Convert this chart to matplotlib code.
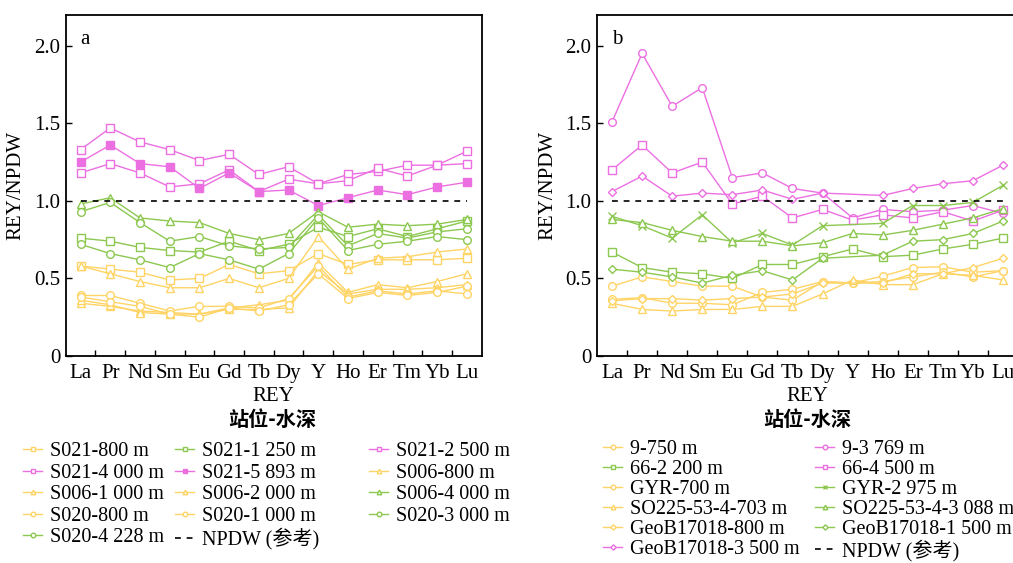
import numpy as np
import matplotlib
matplotlib.use('Agg')
import matplotlib.pyplot as plt

plt.rcParams['font.family'] = ['Liberation Serif', 'Noto Sans CJK SC']

# Datos
rey = ['La', 'Pr', 'Nd', 'Sm', 'Eu', 'Gd', 'Tb', 'Dy', 'Y', 'Ho', 'Er', 'Tm', 'Yb', 'Lu']
npdw = [1.0] * len(rey)

# panel a
s021_800 = [0.58, 0.56, 0.54, 0.49, 0.50, 0.59, 0.53, 0.55, 0.66, 0.59, 0.62, 0.62, 0.62, 0.63]
s021_1250 = [0.76, 0.74, 0.70, 0.68, 0.67, 0.74, 0.68, 0.72, 0.83, 0.77, 0.82, 0.77, 0.82, 0.87]
s021_2500 = [1.33, 1.47, 1.38, 1.33, 1.26, 1.30, 1.17, 1.22, 1.11, 1.17, 1.19, 1.23, 1.23, 1.32]
s021_4000 = [1.18, 1.24, 1.18, 1.09, 1.11, 1.20, 1.06, 1.14, 1.11, 1.13, 1.21, 1.16, 1.23, 1.24]
s021_5893 = [1.25, 1.36, 1.24, 1.22, 1.08, 1.18, 1.06, 1.07, 0.97, 1.02, 1.07, 1.04, 1.09, 1.12]
s006_800 = [0.58, 0.53, 0.48, 0.44, 0.44, 0.50, 0.44, 0.50, 0.77, 0.56, 0.63, 0.64, 0.67, 0.69]
s006_1000 = [0.34, 0.32, 0.29, 0.28, 0.27, 0.31, 0.33, 0.36, 0.60, 0.41, 0.46, 0.44, 0.48, 0.53]
s006_2000 = [0.36, 0.33, 0.28, 0.27, 0.27, 0.30, 0.30, 0.31, 0.55, 0.40, 0.43, 0.43, 0.44, 0.46]
s006_4000 = [0.98, 1.02, 0.89, 0.87, 0.86, 0.79, 0.75, 0.79, 0.93, 0.83, 0.85, 0.84, 0.85, 0.88]
s020_800 = [0.39, 0.39, 0.34, 0.29, 0.32, 0.32, 0.31, 0.37, 0.58, 0.38, 0.42, 0.40, 0.42, 0.40]
s020_1000 = [0.38, 0.35, 0.32, 0.27, 0.25, 0.31, 0.29, 0.33, 0.53, 0.37, 0.41, 0.39, 0.41, 0.45]
s020_3000 = [0.93, 0.99, 0.86, 0.74, 0.77, 0.71, 0.69, 0.70, 0.91, 0.71, 0.79, 0.76, 0.80, 0.82]
s020_4228 = [0.72, 0.66, 0.62, 0.57, 0.66, 0.62, 0.56, 0.66, 0.89, 0.68, 0.72, 0.74, 0.77, 0.75]

# panel b
b9_750 = [0.45, 0.51, 0.48, 0.45, 0.45, 0.38, 0.36, 0.48, 0.47, 0.515, 0.57, 0.575, 0.54, 0.55]
b9_3769 = [1.51, 1.95, 1.61, 1.73, 1.15, 1.18, 1.08, 1.05, 0.89, 0.945, 0.93, 0.94, 0.97, 0.92]
b66_2200 = [0.67, 0.57, 0.54, 0.53, 0.50, 0.59, 0.59, 0.64, 0.69, 0.64, 0.65, 0.69, 0.72, 0.76]
b66_4500 = [1.20, 1.36, 1.18, 1.25, 0.98, 1.03, 0.89, 0.945, 0.876, 0.91, 0.89, 0.93, 0.87, 0.94]
gyr_700 = [0.365, 0.376, 0.34, 0.34, 0.33, 0.41, 0.43, 0.48, 0.47, 0.48, 0.51, 0.54, 0.51, 0.55]
gyr_2975 = [0.90, 0.84, 0.76, 0.91, 0.73, 0.79, 0.715, 0.84, np.nan, 0.855, 0.97, 0.97, 0.99, 1.10]
so225_703 = [0.34, 0.30, 0.29, 0.30, 0.30, 0.32, 0.32, 0.40, 0.49, 0.46, 0.46, 0.53, 0.52, 0.49]
so225_3088 = [0.88, 0.86, 0.81, 0.77, 0.74, 0.74, 0.71, 0.73, 0.79, 0.78, 0.81, 0.85, 0.89, 0.95]
geob_800 = [0.356, 0.37, 0.37, 0.36, 0.37, 0.38, 0.40, 0.47, np.nan, 0.47, 0.53, 0.53, 0.57, 0.63]
geob_1500 = [0.56, 0.54, 0.51, 0.47, 0.52, 0.55, 0.49, 0.63, np.nan, 0.65, 0.74, 0.75, 0.79, 0.87]
geob_3500 = [1.06, 1.16, 1.03, 1.05, 1.04, 1.07, 1.01, 1.05, np.nan, 1.035, 1.08, 1.11, 1.13, 1.23]

# colores
pink = '#EC6FE2'
green = '#8CC850'
yellow = '#FFD466'

x = np.arange(len(rey))

series_a = [
    ('S021-800 m', s021_800, yellow, 's', False),
    ('S021-1 250 m', s021_1250, green, 's', False),
    ('S021-2 500 m', s021_2500, pink, 's', False),
    ('S021-4 000 m', s021_4000, pink, 's', False),
    ('S021-5 893 m', s021_5893, pink, 's', True),
    ('S006-800 m', s006_800, yellow, '^', False),
    ('S006-1 000 m', s006_1000, yellow, '^', False),
    ('S006-2 000 m', s006_2000, yellow, '^', False),
    ('S006-4 000 m', s006_4000, green, '^', False),
    ('S020-800 m', s020_800, yellow, 'o', False),
    ('S020-1 000 m', s020_1000, yellow, 'o', False),
    ('S020-3 000 m', s020_3000, green, 'o', False),
    ('S020-4 228 m', s020_4228, green, 'o', False),
]

series_b = [
    ('9-750 m', b9_750, yellow, 'o', False),
    ('9-3 769 m', b9_3769, pink, 'o', False),
    ('66-2 200 m', b66_2200, green, 's', False),
    ('66-4 500 m', b66_4500, pink, 's', False),
    ('GYR-700 m', gyr_700, yellow, 'o', False),
    ('GYR-2 975 m', gyr_2975, green, 'x', False),
    ('SO225-53-4-703 m', so225_703, yellow, '^', False),
    ('SO225-53-4-3 088 m', so225_3088, green, '^', False),
    ('GeoB17018-800 m', geob_800, yellow, 'D', False),
    ('GeoB17018-1 500 m', geob_1500, green, 'D', False),
    ('GeoB17018-3 500 m', geob_3500, pink, 'D', False),
]

W, H = 1013, 563
fig = plt.figure(figsize=(W / 100, H / 100), dpi=100)
ax_a = fig.add_axes([65.7 / W, 1 - 356 / H, 416 / W, 341.3 / H])
ax_b = fig.add_axes([597 / W, 1 - 356 / H, 421 / W, 341.3 / H])


def draw(ax, series):
    handles = []
    for lab, vals, col, mk, filled in series:
        v = np.array(vals, dtype=float)
        ok = ~np.isnan(v)
        ms = 4.5 if mk == 'D' else 5.5
        if mk == 'x':
            ms = 6
        ln, = ax.plot(x[ok], v[ok], color=col, marker=mk, ms=ms, lw=1.0, mew=1.0,
                      mec=col, mfc=col if filled else 'white', label=lab)
        handles.append(ln)
    ref, = ax.plot(x, npdw, color='black', ls=(0, (3.5, 3.5)), lw=1.2, label='NPDW (参考)')
    handles.append(ref)
    return handles


def style(ax, letter):
    ax.set_xlim(-0.5, 13.5)
    ax.set_ylim(0, 2.2)
    ax.set_xticks(np.arange(0.5, 13, 1))
    ax.set_xticklabels([])
    ax.set_xticks(x, minor=True)
    ax.set_xticklabels(rey, minor=True, fontsize=15)
    ax.tick_params(axis='x', which='major', direction='in', length=4, width=1)
    ax.tick_params(axis='x', which='minor', length=0, pad=6)
    ax.set_yticks([0, 0.5, 1.0, 1.5, 2.0])
    ax.set_yticklabels(['0', '0.5', '1.0', '1.5', '2.0'], fontsize=15)
    ax.tick_params(axis='y', direction='in', length=4, width=1, pad=4)
    for s in ax.spines.values():
        s.set_linewidth(1.3)
    ax.set_xlabel('REY', fontsize=15, labelpad=2.5)
    ax.set_ylabel('REY/NPDW', fontsize=15, labelpad=6)
    ax.text(0.035, 0.955, letter, transform=ax.transAxes, fontsize=15, va='top')


h_a = draw(ax_a, series_a)
h_b = draw(ax_b, series_b)
style(ax_a, 'a')
style(ax_b, 'b')

fig.text(272 / W, 1 - 420 / H, '站位-水深', ha='center', va='center', fontsize=14.5,
         fontweight='bold', family='Noto Sans CJK SC')
fig.text(807 / W, 1 - 420 / H, '站位-水深', ha='center', va='center', fontsize=14.5,
         fontweight='bold', family='Noto Sans CJK SC')

leg_kw = dict(loc='upper left', frameon=False, fontsize=14.5, borderpad=0,
              borderaxespad=0, handlelength=0.95, handletextpad=0.4,
              markerscale=0.6)

# panel a: 3 columnas (orden por filas)
cols_a = [[0, 3, 6, 9, 12], [1, 4, 7, 10, 13], [2, 5, 8, 11]]
for xs, idx in zip([23, 175, 369], cols_a):
    hs = [h_a[i] for i in idx]
    fig.legend(hs, [h.get_label() for h in hs], bbox_to_anchor=(xs / W, 1 - 442 / H),
               labelspacing=0.12, **leg_kw)

# panel b: 2 columnas (un poco mas compacta para que quepa la ultima fila)
cols_b = [[0, 2, 4, 6, 8, 10], [1, 3, 5, 7, 9, 11]]
for xs, idx in zip([603, 815], cols_b):
    hs = [h_b[i] for i in idx]
    fig.legend(hs, [h.get_label() for h in hs], bbox_to_anchor=(xs / W, 1 - 440 / H),
               labelspacing=0.04, **leg_kw)

fig.savefig('out.png', dpi=100)
